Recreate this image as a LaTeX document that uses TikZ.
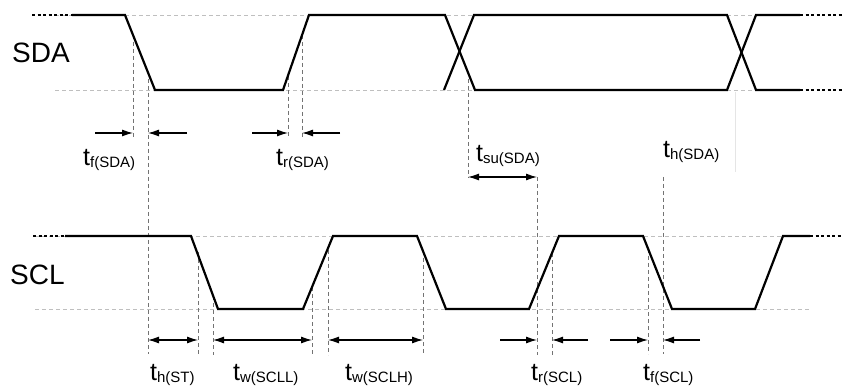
\documentclass[tikz,border=0pt]{standalone}
\usepackage{fontspec}
\setmainfont{Liberation Sans}
\usetikzlibrary{arrows.meta}
\newcommand{\tlab}[2]{{\fontsize{25}{25}\selectfont t}\raisebox{-2pt}{\fontsize{15}{15}\selectfont #1(#2)}}
\begin{document}
\begin{tikzpicture}[x=1pt,y=-1pt,
  sig/.style={line width=2.2pt, line join=miter},
  dotsig/.style={line width=2.2pt, dash pattern=on 3pt off 2.5pt},
  guide/.style={black!25, line width=0.6pt, dash pattern=on 4pt off 3pt},
  vline/.style={black!55, line width=0.75pt, dash pattern=on 4pt off 3pt},
  dimr/.style={line width=1.1pt, -{Latex[length=11pt,width=7pt]}},
  ddim/.style={line width=1.1pt, {Latex[length=11pt,width=7pt]}-{Latex[length=11pt,width=7pt]}},
  lab/.style={anchor=base west, inner sep=0pt},
  big/.style={anchor=base west, inner sep=0pt, font=\fontsize{28}{28}\selectfont}]
\useasboundingbox (0,0) rectangle (843,387);

% level guides
\draw[guide] (55,15) -- (800,15);
\draw[guide] (55,90) -- (800,90);
\draw[guide] (35,236) -- (810,236);
\draw[guide] (35,309) -- (810,309);

% faint remnant line
\draw[black!10, line width=0.8pt] (735,92) -- (735,172);

% vertical reference lines
\coordinate (v1a) at (133,35);  \coordinate (v1b) at (133,138);
\coordinate (v2a) at (148,72);  \coordinate (v2b) at (148,354);
\coordinate (v3a) at (288,76);  \coordinate (v3b) at (288,138);
\coordinate (v4a) at (302,35);  \coordinate (v4b) at (302,138);
\coordinate (v5a) at (468,72);  \coordinate (v5b) at (468,178);
\coordinate (v6a) at (537,177); \coordinate (v6b) at (537,355);
\coordinate (v7a) at (552,253); \coordinate (v7b) at (552,355);
\coordinate (v8a) at (198,252); \coordinate (v8b) at (198,355);
\coordinate (v9a) at (213,296); \coordinate (v9b) at (213,355);
\coordinate (v10a) at (312,287); \coordinate (v10b) at (312,355);
\coordinate (v11a) at (328,250); \coordinate (v11b) at (328,355);
\coordinate (v12a) at (423,251); \coordinate (v12b) at (423,355);
\coordinate (v13a) at (648,249); \coordinate (v13b) at (648,354);
\coordinate (v14a) at (663,177); \coordinate (v14b) at (663,354);
\foreach \v in {1,...,14} {\draw[vline] (v\v a) -- (v\v b);}

% SDA signal
\draw[sig] (72,15) -- (125,15) -- (155,90) -- (283,90) -- (309,15) -- (445,15) -- (475,90) -- (727,90) -- (756,15) -- (800,15);
\draw[sig] (444,90) -- (474,15) -- (727,15) -- (756,90) -- (800,90);
\draw[dotsig] (32,15) -- (72,15);
\draw[dotsig] (800,15) -- (843,15);
\draw[dotsig] (800,90) -- (843,90);

% SCL signal
\draw[sig] (65,236) -- (191,236) -- (218,309) -- (303,309) -- (333,236) -- (417,236) -- (446,309) -- (529,309) -- (559,236) -- (643,236) -- (672,309) -- (755,309) -- (783,236) -- (810,236);
\draw[dotsig] (33,236) -- (65,236);
\draw[dotsig] (810,236) -- (843,236);

% dimension arrows
\coordinate (a1) at (95,133);  \coordinate (a1t) at (133,133);
\coordinate (a2) at (187,133); \coordinate (a2t) at (148,133);
\coordinate (a3) at (252,133); \coordinate (a3t) at (288,133);
\coordinate (a4) at (340,133); \coordinate (a4t) at (302,133);
\draw[dimr] (a1) -- (a1t);
\draw[dimr] (a2) -- (a2t);
\draw[dimr] (a3) -- (a3t);
\draw[dimr] (a4) -- (a4t);
\coordinate (su1) at (468,177); \coordinate (su2) at (537,177);
\draw[ddim] (su1) -- (su2);
\coordinate (b1) at (148,340); \coordinate (b2) at (198,340);
\coordinate (b3) at (213,340); \coordinate (b4) at (312,340);
\coordinate (b5) at (328,340); \coordinate (b6) at (423,340);
\draw[ddim] (b1) -- (b2);
\draw[ddim] (b3) -- (b4);
\draw[ddim] (b5) -- (b6);
\coordinate (c1) at (500,340); \coordinate (c1t) at (537,340);
\coordinate (c2) at (588,340); \coordinate (c2t) at (552,340);
\coordinate (c3) at (610,340); \coordinate (c3t) at (648,340);
\coordinate (c4) at (700,340); \coordinate (c4t) at (663,340);
\draw[dimr] (c1) -- (c1t);
\draw[dimr] (c2) -- (c2t);
\draw[dimr] (c3) -- (c3t);
\draw[dimr] (c4) -- (c4t);

% labels
\node[big] (sda) at (12,63) {SDA};
\node[big] (scl) at (10,285) {SCL};
\node[lab] (lfsda) at (83,166) {\tlab{f}{SDA}};
\node[lab] (lrsda) at (276,166) {\tlab{r}{SDA}};
\node[lab] (lsusda) at (476,162) {\tlab{su}{SDA}};
\node[lab] (lhsda) at (663,158) {\tlab{h}{SDA}};
\node[lab] (lhst) at (150,380) {\tlab{h}{ST}};
\node[lab] (lwscll) at (233,380) {\tlab{w}{SCLL}};
\node[lab] (lwsclh) at (345,380) {\tlab{w}{SCLH}};
\node[lab] (lrscl) at (531,380) {\tlab{r}{SCL}};
\node[lab] (lfscl) at (643,380) {\tlab{f}{SCL}};
\end{tikzpicture}
\end{document}
